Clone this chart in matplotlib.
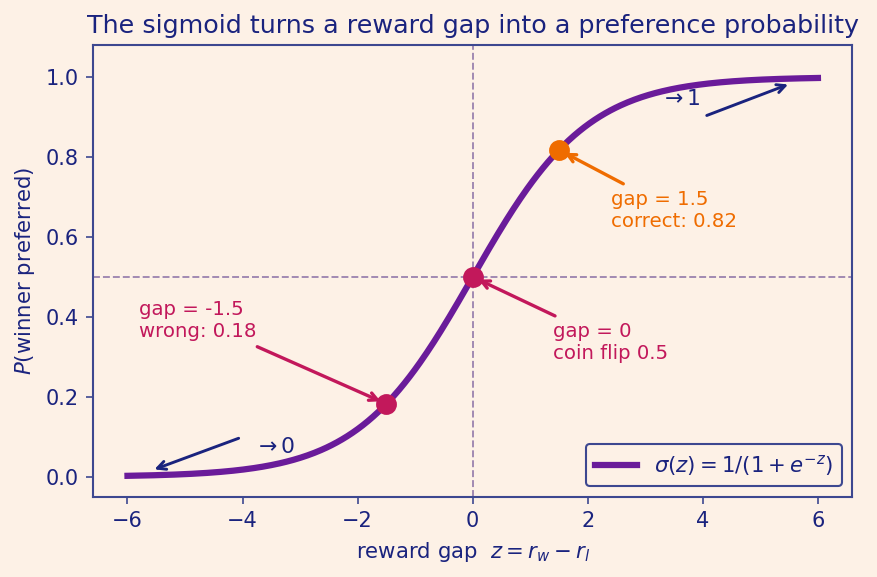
import numpy as np
import matplotlib
matplotlib.use("Agg")
import matplotlib.pyplot as plt

# data
z_range = (-6, 6)
points_z = [-1.5, 0.0, 1.5]
point_labels = ["gap = -1.5\nwrong: 0.18", "gap = 0\ncoin flip 0.5", "gap = 1.5\ncorrect: 0.82"]
point_text_xy = [(-5.8, 0.34), (1.4, 0.285), (2.4, 0.615)]
point_colors = ["#c2185b", "#c2185b", "#ef6c00"]

BG = "#fdf1e6"
NAVY = "#1a237e"
SPINE = "#3d4890"
PURPLE = "#6a1b9a"

def sigmoid(z):
    return 1.0 / (1.0 + np.exp(-z))

z = np.linspace(z_range[0], z_range[1], 400)

fig, ax = plt.subplots(figsize=(877/150, 577/150), dpi=150)
fig.patch.set_facecolor(BG)
ax.set_facecolor(BG)

ax.axhline(0.5, color="#9e86b0", lw=0.9, ls="--", zorder=1)
ax.axvline(0.0, color="#9e86b0", lw=0.9, ls="--", zorder=1)

ax.plot(z, sigmoid(z), color=PURPLE, lw=3, label=r"$\sigma(z) = 1/(1+e^{-z})$", zorder=2)

for pz, lab, txy, c in zip(points_z, point_labels, point_text_xy, point_colors):
    py = sigmoid(pz)
    ax.plot([pz], [py], "o", color=c, ms=9, zorder=3)
    ax.annotate(lab, xy=(pz, py), xytext=txy, color=c, fontsize=9.5,
                ha="left", va="bottom",
                arrowprops=dict(arrowstyle="->", color=c, lw=1.6, shrinkB=3))

ax.annotate("", xy=(5.55, 0.985), xytext=(4.0, 0.90),
            arrowprops=dict(arrowstyle="->", color=NAVY, lw=1.4))
ax.text(3.25, 0.945, r"$\to 1$", color=NAVY, fontsize=10.5, va="center", ha="left")
ax.annotate("", xy=(-5.6, 0.015), xytext=(-4.0, 0.10),
            arrowprops=dict(arrowstyle="->", color=NAVY, lw=1.4))
ax.text(-3.8, 0.075, r"$\to 0$", color=NAVY, fontsize=10.5, va="center", ha="left")

ax.set_xlim(-6.6, 6.6)
ax.set_ylim(-0.05, 1.08)
ax.set_xticks([-6, -4, -2, 0, 2, 4, 6])
ax.set_yticks([0.0, 0.2, 0.4, 0.6, 0.8, 1.0])

ax.set_title("The sigmoid turns a reward gap into a preference probability",
             color=NAVY, fontsize=12.2)
ax.set_xlabel(r"reward gap  $z = r_w - r_l$", color=NAVY, fontsize=10.2)
ax.set_ylabel(r"$P$(winner preferred)", color=NAVY, fontsize=10.2)

for s in ax.spines.values():
    s.set_color(SPINE)
    s.set_linewidth(1.0)
ax.tick_params(colors=SPINE, labelcolor=NAVY, labelsize=10)

leg = ax.legend(loc="lower right", fontsize=10.2, facecolor=BG, edgecolor=SPINE,
                labelcolor=NAVY, framealpha=1)
leg.get_frame().set_linewidth(1.0)

fig.subplots_adjust(left=0.106, right=0.972, top=0.922, bottom=0.139)
fig.savefig("out.png", dpi=150, facecolor=BG)
